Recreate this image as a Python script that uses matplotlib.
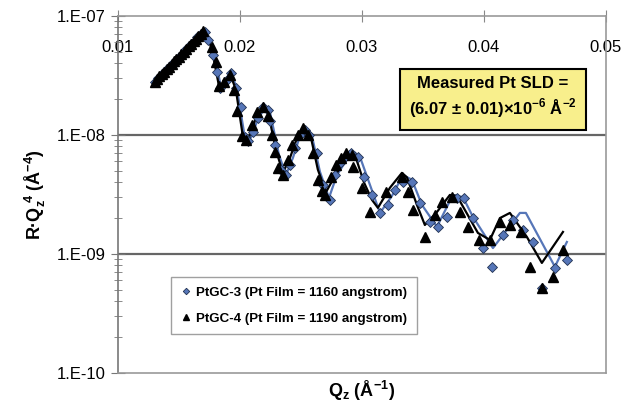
import matplotlib
matplotlib.use("Agg")
import matplotlib.pyplot as plt
import numpy as np

plt.rcParams['font.family'] = ['Liberation Sans', 'DejaVu Sans']
plt.rcParams['mathtext.fontset'] = 'custom'
plt.rcParams['mathtext.rm'] = 'Liberation Sans'
plt.rcParams['mathtext.bf'] = 'Liberation Sans:bold'

# PtGC-3 data (diamonds)
q3 = [0.0130, 0.0133, 0.0135, 0.0138, 0.0140, 0.0143, 0.0145, 0.0148, 0.0150,
      0.0153, 0.0155, 0.0158, 0.0160, 0.0163, 0.0165, 0.0168, 0.0171,
      0.0174, 0.0178, 0.0181, 0.0184, 0.0189, 0.0193, 0.0197, 0.0201, 0.0204,
      0.0207, 0.0211, 0.0215, 0.0219, 0.0223, 0.0225, 0.0229, 0.0234, 0.0238,
      0.0241, 0.0245, 0.0249, 0.0253, 0.0257, 0.0263, 0.0268, 0.0274, 0.0278,
      0.0282, 0.0286, 0.0291, 0.0297, 0.0302, 0.0308, 0.0315, 0.0321, 0.0327,
      0.0334, 0.0341, 0.0348, 0.0356, 0.0362, 0.0370, 0.0378, 0.0384, 0.0391,
      0.0399, 0.0407, 0.0416, 0.0424, 0.0432, 0.0440, 0.0448, 0.0458, 0.0468]
r3 = [2.8e-8, 3.0e-8, 3.15e-8, 3.35e-8, 3.55e-8, 3.8e-8, 4.05e-8, 4.3e-8, 4.55e-8,
      4.85e-8, 5.15e-8, 5.5e-8, 5.85e-8, 6.2e-8, 6.6e-8, 7.0e-8, 7.3e-8,
      6.3e-8, 4.7e-8, 3.4e-8, 2.5e-8, 2.9e-8, 3.3e-8, 2.5e-8, 1.7e-8, 9.6e-9,
      8.9e-9, 1.06e-8, 1.4e-8, 1.7e-8, 1.63e-8, 1.3e-8, 8.2e-9, 5.1e-9, 4.6e-9,
      5.6e-9, 7.8e-9, 1.0e-8, 1.1e-8, 1.0e-8, 7.1e-9, 3.8e-9, 2.85e-9, 4.6e-9,
      5.8e-9, 6.5e-9, 7.1e-9, 6.5e-9, 4.4e-9, 3.13e-9, 2.21e-9, 2.58e-9, 3.45e-9,
      4.0e-9, 4.0e-9, 2.7e-9, 1.86e-9, 1.69e-9, 2.05e-9, 2.96e-9, 2.96e-9, 2.0e-9,
      1.12e-9, 7.8e-10, 1.45e-9, 1.93e-9, 1.59e-9, 1.26e-9, 5.2e-10, 7.6e-10, 8.9e-10]

# PtGC-4 data (triangles)
q4 = [0.0130, 0.0132, 0.0134, 0.0136, 0.0138, 0.0140, 0.0142, 0.0144, 0.0146,
      0.0148, 0.0150, 0.0152, 0.0154, 0.0156, 0.0158, 0.0160, 0.0162, 0.0164,
      0.0166, 0.0168, 0.0170,
      0.0177, 0.0180, 0.0183, 0.0187, 0.0192, 0.0195, 0.0198, 0.0202, 0.0205,
      0.0210, 0.0214, 0.0219, 0.0223, 0.0226, 0.0229, 0.0231, 0.0235, 0.0239,
      0.0243, 0.0248, 0.0252, 0.0256, 0.0260, 0.0264, 0.0267, 0.0270, 0.0275,
      0.0279, 0.0283, 0.0287, 0.0292, 0.0293, 0.0300, 0.0307, 0.0320, 0.0333,
      0.0338, 0.0342, 0.0352, 0.0360, 0.0366, 0.0374, 0.0380, 0.0387, 0.0396,
      0.0405, 0.0413, 0.0421, 0.0430, 0.0438, 0.0448, 0.0457, 0.0465]
r4 = [2.8e-8, 2.95e-8, 3.1e-8, 3.25e-8, 3.4e-8, 3.6e-8, 3.75e-8, 3.95e-8, 4.15e-8,
      4.35e-8, 4.55e-8, 4.8e-8, 5.0e-8, 5.3e-8, 5.55e-8, 5.85e-8, 6.15e-8, 6.45e-8,
      6.8e-8, 7.1e-8, 7.4e-8,
      5.5e-8, 4.1e-8, 2.6e-8, 2.8e-8, 3.2e-8, 2.4e-8, 1.6e-8, 9.8e-9, 9.1e-9,
      1.2e-8, 1.55e-8, 1.72e-8, 1.45e-8, 1.0e-8, 7.2e-9, 5.3e-9, 4.6e-9, 6.1e-9,
      8.2e-9, 1.0e-8, 1.15e-8, 1.0e-8, 7.1e-9, 4.2e-9, 3.4e-9, 3.1e-9, 4.4e-9,
      5.6e-9, 6.4e-9, 7.0e-9, 6.8e-9, 5.4e-9, 3.6e-9, 2.25e-9, 3.3e-9, 4.4e-9,
      3.3e-9, 2.34e-9, 1.39e-9, 2.13e-9, 2.74e-9, 3.0e-9, 2.25e-9, 1.69e-9, 1.31e-9,
      1.31e-9, 1.86e-9, 1.75e-9, 1.53e-9, 7.8e-10, 5.2e-10, 6.4e-10, 1.08e-9]

# model fits
q3_fit = [0.01328, 0.01713, 0.01754, 0.01795, 0.01844, 0.01885, 0.01934, 0.01975,
          0.02041, 0.02082, 0.02148, 0.02205, 0.02246, 0.0232, 0.02377, 0.02434,
          0.02492, 0.0254, 0.0259, 0.02656, 0.0273, 0.02795, 0.02885, 0.02943,
          0.02992, 0.03066, 0.03148, 0.03246, 0.03336, 0.0341, 0.03492, 0.03615,
          0.03746, 0.03828, 0.0391, 0.04074, 0.04295, 0.04344, 0.04582, 0.0468]
r3_fit = [2.9e-8, 7.3e-8, 6.5e-8, 4.7e-8, 2.5e-8, 2.9e-8, 3.2e-8, 2.45e-8,
          9.4e-9, 9.1e-9, 1.36e-8, 1.69e-8, 1.56e-8, 6.8e-9, 4.6e-9, 6.4e-9,
          9.8e-9, 1.1e-8, 9.8e-9, 4.9e-9, 2.96e-9, 4.6e-9, 6.4e-9, 7.1e-9,
          6.2e-9, 3.8e-9, 2.21e-9, 3.07e-9, 4.6e-9, 4.2e-9, 2.58e-9, 1.69e-9,
          3.13e-9, 3.0e-9, 2.05e-9, 1.12e-9, 2.21e-9, 2.21e-9, 7.8e-10, 1.26e-9]
q4_fit = [0.01303, 0.01697, 0.01738, 0.01779, 0.01828, 0.01877, 0.01926, 0.01967,
          0.02025, 0.02066, 0.02131, 0.02189, 0.0223, 0.02295, 0.02352, 0.0241,
          0.02467, 0.02525, 0.02574, 0.02639, 0.02705, 0.0277, 0.02861, 0.02902,
          0.02951, 0.03016, 0.03082, 0.03131, 0.0323, 0.03328, 0.03369, 0.03451,
          0.03516, 0.03615, 0.03721, 0.03779, 0.03951, 0.04049, 0.04131, 0.04213,
          0.04352, 0.04475, 0.04648]
r4_fit = [2.79e-8, 7.48e-8, 6.79e-8, 4.7e-8, 2.58e-8, 2.79e-8, 3.13e-8, 2.39e-8,
          9.6e-9, 9.1e-9, 1.39e-8, 1.72e-8, 1.56e-8, 7.5e-9, 4.8e-9, 6.4e-9,
          9.4e-9, 1.15e-8, 1.04e-8, 5.1e-9, 3.3e-9, 4.35e-9, 6.2e-9, 6.9e-9,
          6.4e-9, 4.0e-9, 2.85e-9, 2.44e-9, 3.6e-9, 4.8e-9, 4.4e-9, 2.58e-9,
          1.75e-9, 2.25e-9, 3.13e-9, 3.07e-9, 1.5e-9, 1.31e-9, 2.0e-9, 2.21e-9,
          1.39e-9, 8.4e-10, 1.53e-9]

blue = '#5676b8'
fig = plt.figure(figsize=(6.24, 4.08), dpi=100)
ax = fig.add_axes([0.189, 0.086, 0.782, 0.875])

ax.plot(q3_fit, r3_fit, color=blue, lw=1.6, zorder=2)
ax.plot(q4_fit, r4_fit, color='black', lw=1.6, zorder=2)
ax.plot(q3, r3, ls='none', marker='D', ms=5.5, mfc=blue, mec='#203050', mew=0.6,
        label='PtGC-3 (Pt Film = 1160 angstrom)', zorder=3)
ax.plot(q4, r4, ls='none', marker='^', ms=7, color='black',
        label='PtGC-4 (Pt Film = 1190 angstrom)', zorder=4)

ax.set_yscale('log')
ax.set_xlim(0.01, 0.05)
ax.set_ylim(1e-10, 1e-7)

for yv in [1e-8, 1e-9]:
    ax.axhline(yv, color='#666666', lw=1.6, zorder=1)

for s in ax.spines.values():
    s.set_color('#999999')
    s.set_linewidth(1.2)
ax.spines['left'].set_color('#777777')

ax.set_xticks([0.01, 0.02, 0.03, 0.04, 0.05])
ax.set_xticklabels(['0.01', '0.02', '0.03', '0.04', '0.05'])
ax.xaxis.tick_top()
ax.tick_params(axis='x', which='major', direction='inout', length=8, color='#888888',
               labelsize=12, pad=-32)
ax.set_yticks([1e-10, 1e-9, 1e-8, 1e-7])
ax.set_yticklabels(['1.E-10', '1.E-09', '1.E-08', '1.E-07'])
ax.tick_params(axis='y', which='major', direction='inout', length=10, color='#777777',
               labelsize=12, pad=4)
ax.yaxis.set_minor_locator(matplotlib.ticker.LogLocator(base=10, subs=np.arange(2, 10)))
ax.yaxis.set_minor_formatter(matplotlib.ticker.NullFormatter())
ax.tick_params(axis='y', which='minor', direction='inout', length=6, color='#777777')
ax.tick_params(axis='x', which='minor', top=False, bottom=False)

ax.set_ylabel(r'R·Q$_\mathbf{z}^{\ \mathbf{4}}$ (Å$^{\mathbf{-4}}$)', fontsize=13,
              fontweight='bold', labelpad=6)
ax.set_xlabel(r'Q$_\mathbf{z}$ (Å$^{\mathbf{-1}}$)', fontsize=13, fontweight='bold',
              labelpad=4)
ax.xaxis.set_label_position('bottom')

ax.text(0.768, 0.77, 'Measured Pt SLD =\n(6.07 ± 0.01)×10$^{\\mathbf{-6}}$ Å$^{\\mathbf{-2}}$',
        transform=ax.transAxes, ha='center', va='center', fontsize=12,
        fontweight='bold', linespacing=1.35,
        bbox=dict(boxstyle='square,pad=0.55', fc='#f8ef8c', ec='black', lw=1.5),
        zorder=5)

leg = ax.legend(loc='lower left', bbox_to_anchor=(0.095, 0.09),
                prop={'weight': 'bold', 'size': 9.6}, frameon=True, fancybox=False,
                handlelength=0.8, handletextpad=0.4, borderpad=0.7, labelspacing=1.0,
                markerscale=0.6)
leg.get_frame().set_edgecolor('#888888')
leg.get_frame().set_linewidth(1.0)

fig.savefig('out.png', dpi=100)
